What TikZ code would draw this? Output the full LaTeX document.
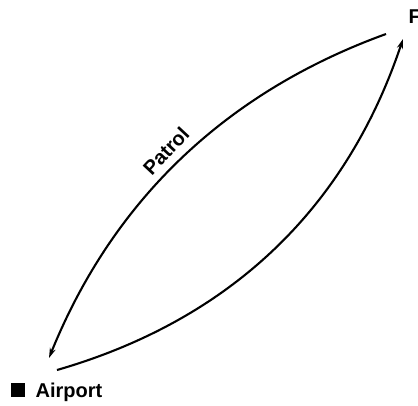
\documentclass[tikz,border=0pt]{standalone}
\usepackage{fontspec}
\setmainfont{Liberation Sans}
\usetikzlibrary{arrows.meta}
\begin{document}
\begin{tikzpicture}[x=1pt,y=-1pt,
  route/.style={line width=2.1pt,-{Stealth[length=10pt,width=6pt]}},
  lbl/.style={font=\fontsize{20}{24}\selectfont\bfseries,inner sep=0pt}]
\useasboundingbox (0,0) rectangle (418,405);
\coordinate (Fend) at (386,34);
\coordinate (Aend) at (49,358);
\coordinate (Astart) at (57,370);
\coordinate (Fstart) at (403,39);
\node[lbl,anchor=base west] (F) at (408.5,23) {F};
\node[fill=black,minimum width=14pt,minimum height=14pt,inner sep=0pt] (sq) at (18,390) {};
\node[lbl,anchor=base west] (airport) at (35.5,397) {Airport};
\draw[route] (Fend) .. controls (226,92) and (113,200) .. (Aend);
\draw[route] (Astart) .. controls (230,320) and (346,209) .. (Fstart);
\node[lbl,anchor=center,rotate=47] (patrol) at (166,151) {Patrol};
\end{tikzpicture}
\end{document}
